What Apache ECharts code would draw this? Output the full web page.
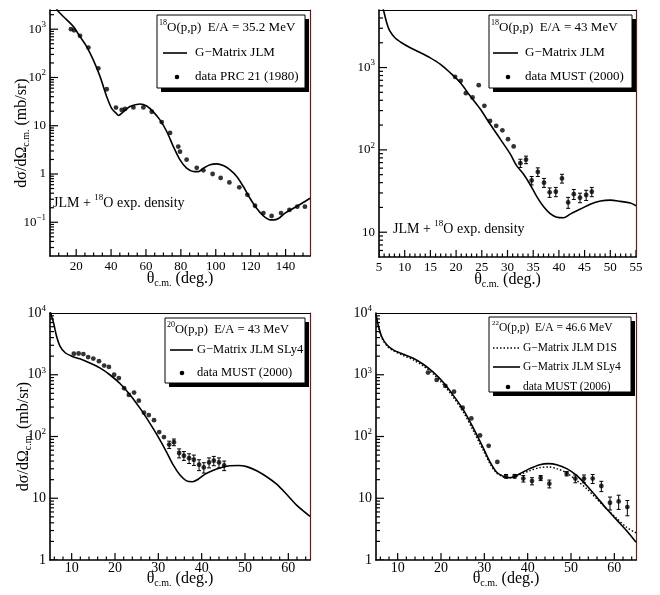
<!DOCTYPE html>
<html><head><meta charset="utf-8">
<script src="https://cdn.jsdelivr.net/npm/echarts@6.0.0/dist/echarts.min.js"></script>
<style>html,body{margin:0;padding:0;background:#fff}#c{width:660px;height:595px}</style>
</head><body><div id="c"></div>
<script>
// ===== Panel 1: 18O(p,p) E/A = 35.2 MeV =====
const p1DataAngle = [17.0, 18.8, 22.2, 27.0, 32.7, 37.5, 42.8, 46.1, 48.0, 52.8, 58.5, 63.3, 69.0, 73.8, 78.5, 79.5, 83.3, 89.1, 92.9, 98.2, 102.8, 107.8, 113.5, 118.1, 122.5, 127.3, 132.0, 137.4, 142.2, 146.7, 151.1];
const p1DataValue = [1000, 950, 728, 417, 155, 57, 23.8, 21.3, 22.3, 24, 24, 19.5, 11.9, 7.1, 3.7, 2.9, 1.98, 1.34, 1.19, 1.0, 0.83, 0.67, 0.53, 0.37, 0.22, 0.155, 0.135, 0.155, 0.18, 0.21, 0.21];
const p1CurveAngle = [6, 8, 9.8, 14.6, 18.4, 22.2, 26.0, 29.8, 33.7, 37.5, 40.3, 43.2, 44.2, 47.0, 50.8, 56.6, 60.4, 64.2, 68.0, 71.9, 75.7, 79.5, 83.3, 87.1, 90.0, 92.9, 96.7, 100.5, 104.3, 108.2, 112.0, 115.8, 119.6, 123.4, 127.3, 131.1, 133.0, 135.9, 139.7, 144.5, 149.2, 154.0];
const p1CurveValue = [3500, 2900, 2330, 1560, 1135, 700, 437, 231, 104, 40, 23, 17.6, 16.3, 19.4, 25, 28.3, 25.6, 19.4, 13.2, 7.6, 3.7, 1.96, 1.32, 1.13, 1.12, 1.32, 1.55, 1.62, 1.5, 1.22, 0.89, 0.55, 0.315, 0.195, 0.135, 0.112, 0.112, 0.12, 0.155, 0.195, 0.245, 0.315];
const p1XTicks = [20, 40, 60, 80, 100, 120, 140];
const p1YTicks = [0.1, 1, 10, 100, 1000];

// ===== Panel 2: 18O(p,p) E/A = 43 MeV =====
const p2DataAngle = [19.8, 20.9, 21.9, 23.2, 24.4, 25.5, 26.6, 27.8, 29.0, 30.1, 31.2, 32.5, 33.6, 34.7, 35.9, 37.1, 38.2, 39.4, 40.6, 41.8, 42.9, 44.1, 45.3, 46.4];
const p2DataValue = [771, 690, 488, 433, 611, 343, 225, 196, 173, 135, 110, 69, 76, 42.5, 54, 40, 30.5, 31, 45, 23, 29, 26.3, 28.3, 31];
const p2DataError = [0, 0, 0, 0, 0, 0, 0, 0, 0, 0, 0, 8, 8, 5, 6.5, 5, 4, 4, 5.5, 3.5, 4, 3.5, 4, 4];
const p2CurveAngle = [5.0, 5.84, 6.5, 7.1, 8.1, 9.4, 11.0, 13.0, 14.9, 16.9, 18.8, 20.8, 22.7, 24.7, 26.6, 28.6, 30.5, 31.8, 33.1, 34.4, 35.7, 37.0, 38.3, 39.6, 40.9, 42.2, 44.2, 46.1, 48.1, 50.0, 51.9, 53.9, 55.0];
const p2CurveValue = [8000, 5090, 3510, 2780, 2300, 2000, 1750, 1520, 1320, 1100, 870, 658, 454, 313, 206, 135, 90, 64, 51, 38, 27, 20.5, 16.8, 15.2, 15, 16.6, 19.1, 21.9, 23.9, 24.5, 23.7, 22.6, 21];
const p2XTicks = [5, 10, 15, 20, 25, 30, 35, 40, 45, 50, 55];
const p2YTicks = [10, 100, 1000];

// ===== Panel 3: 20O(p,p) E/A = 43 MeV =====
const p3DataAngle = [10.5, 11.6, 12.7, 13.8, 15.0, 16.3, 17.5, 18.6, 19.8, 20.9, 22.1, 23.2, 24.4, 25.5, 26.7, 27.8, 29.0, 30.2, 31.3, 32.5, 33.6, 34.8, 35.9, 37.1, 38.2, 39.4, 40.5, 41.7, 42.8, 44.0, 45.2];
const p3DataValue = [2190, 2210, 2160, 1930, 1830, 1660, 1410, 1340, 1000, 885, 605, 472, 515, 381, 243, 222, 184, 118, 98, 74, 81, 54, 49, 44.5, 42, 35, 31.6, 38, 40.6, 38, 34];
const p3DataError = [0, 0, 0, 0, 0, 0, 0, 0, 0, 0, 0, 0, 0, 0, 0, 0, 0, 0, 0, 10, 10, 9, 8, 8, 8, 7, 6, 7, 7, 7, 6];
const p3CurveAngle = [5.0, 5.15, 5.8, 6.5, 7.3, 8.5, 10.0, 11.9, 14.2, 16.5, 18.8, 21.2, 23.5, 25.8, 28.1, 30.0, 31.9, 33.5, 35.0, 36.5, 37.9, 39.2, 40.8, 42.7, 44.2, 46.5, 48.5, 50.4, 52.7, 55.0, 57.3, 59.6, 61.9, 65.0];
const p3CurveValue = [12000, 10000, 7050, 4250, 2920, 2270, 2000, 1810, 1550, 1290, 1000, 714, 472, 285, 162, 98, 56, 34, 23.7, 19.1, 18.5, 20.3, 24.6, 28.5, 31, 33.5, 34, 32.5, 27.9, 22.3, 16.9, 11.6, 7.76, 5.1];
const p3XTicks = [10, 20, 30, 40, 50, 60];
const p3YTicks = [1, 10, 100, 1000, 10000];

// ===== Panel 4: 22O(p,p) E/A = 46.6 MeV =====
const p4DataAngle = [17, 19, 21, 23, 25, 27, 29, 31, 33, 35, 37, 39, 41, 43, 45, 49, 51, 53, 55, 57, 59, 61, 63];
const p4DataValue = [1085, 825, 660, 532, 292, 196, 104, 70.5, 38.7, 22.7, 22.7, 20.8, 19, 21.3, 17.2, 25, 20.8, 20.8, 20.8, 15.8, 8.45, 8.9, 7.2];
const p4DataError = [0, 0, 0, 0, 0, 0, 0, 0, 0, 1.5, 1.5, 2.5, 2.5, 2, 2.5, 2, 3, 3, 3.5, 3, 2, 2.3, 2];
const p4CurveAngle = [5.0, 5.5, 6.3, 7.5, 9.0, 11.3, 13.6, 15.9, 18.2, 20.5, 22.8, 25.2, 27.5, 29.8, 31.3, 32.8, 34.4, 35.5, 36.7, 38.2, 40.5, 42.8, 44.8, 46.7, 49.0, 51.3, 53.6, 55.9, 58.2, 60.5, 62.8, 65.0];
const p4SLy4Value = [9400, 6460, 4170, 3050, 2530, 2150, 1850, 1480, 1100, 755, 468, 267, 135, 64, 38.7, 26.6, 22.6, 21.5, 22, 25, 30.2, 35, 36.4, 35, 30.2, 23.5, 16.1, 10.5, 6.76, 4.5, 3.0, 1.94];
const p4D1SValue = [9400, 6300, 4020, 2940, 2440, 2050, 1740, 1390, 1030, 701, 437, 246, 122, 58.5, 36.4, 25.7, 22.1, 21.3, 21.8, 24.1, 28, 31.3, 32.1, 30.2, 25.7, 19.5, 14.3, 9.8, 6.75, 4.76, 3.4, 2.75];
const p4XTicks = [10, 20, 30, 40, 50, 60];
const p4YTicks = [1, 10, 100, 1000, 10000];

// ===== helpers =====
const FONT = '"Liberation Serif","Times New Roman",serif';
const zip = (a, b) => a.map((v, i) => [v, b[i]]);
function steps(a, b, s) { const r = []; for (let v = a; v <= b + 1e-9; v += s) r.push(+v.toFixed(6)); return r; }
function logMinor(min, max) { const r = []; for (let e = -3; e <= 5; e++) for (let m = 2; m <= 9; m++) { const v = m * Math.pow(10, e); if (v > min && v < max) r.push(+v.toPrecision(6)); } return r; }
function powLabel(v) { const e = Math.round(Math.log10(v)); if (e === 0) return '1'; if (e === 1) return '10'; return '10{sup|' + (e < 0 ? '\u2212' + (-e) : e) + '}'; }

const grids = [], xAxes = [], yAxes = [], series = [], graphics = [];

function addPanel(c) {
  const gi = grids.length, xi = xAxes.length, yi = yAxes.length;
  grids.push({ left: c.left, top: c.top, width: c.width, height: c.height, show: false, containLabel: false, outerBoundsMode: 'none' });
  xAxes.push({
    type: 'value', gridIndex: gi, min: c.xMin, max: c.xMax, position: 'bottom',
    axisLine: { show: true, onZero: false, lineStyle: { color: '#000', width: 1.6 } },
    axisTick: { show: false },
    axisLabel: { show: true, customValues: c.xTicks, margin: c.xLabelMargin, fontFamily: FONT, fontSize: c.tickFont, color: '#000', hideOverlap: false },
    splitLine: { show: false },
    name: 'θ{sub|c.m.} (deg.)', nameLocation: 'middle', nameGap: c.xNameGap, nameMoveOverlap: false,
    nameTextStyle: { fontFamily: FONT, fontSize: 16, color: '#000', lineHeight: 18, verticalAlign: 'top',
      rich: { sub: { fontFamily: FONT, fontSize: 10, lineHeight: 10, verticalAlign: 'bottom', color: '#000' } } }
  });
  xAxes.push({
    type: 'value', gridIndex: gi, min: c.xMin, max: c.xMax, position: 'top',
    axisLine: { show: true, onZero: false, lineStyle: { color: '#000', width: 1 } },
    axisTick: { show: false }, axisLabel: { show: false }, splitLine: { show: false }
  });
  const yMain = {
    type: 'log', logBase: 10, gridIndex: gi, min: c.yMin, max: c.yMax, position: 'left',
    axisLine: { show: true, onZero: false, lineStyle: { color: '#000', width: 1.6 } },
    axisTick: { show: false },
    axisLabel: { show: true, customValues: c.yTicks, formatter: powLabel, margin: 4, fontFamily: FONT, fontSize: c.tickFont, color: '#000', lineHeight: 18, hideOverlap: false,
      rich: { sup: { fontFamily: FONT, fontSize: 9, lineHeight: 9, verticalAlign: 'top', color: '#000' } } },
    splitLine: { show: false }
  };
  if (c.yTitle) {
    Object.assign(yMain, {
      name: 'dσ/dΩ{sub|c.m.} (mb/sr)', nameLocation: 'middle', nameRotate: 90, nameGap: c.yNameGap, nameMoveOverlap: false,
      nameTextStyle: { fontFamily: FONT, fontSize: 16, color: '#000', lineHeight: 18,
        rich: { sub: { fontFamily: FONT, fontSize: 10, lineHeight: 10, verticalAlign: 'bottom', color: '#000' } } }
    });
  }
  yAxes.push(yMain);
  yAxes.push({
    type: 'log', logBase: 10, gridIndex: gi, min: c.yMin, max: c.yMax, position: 'right',
    axisLine: { show: true, onZero: false, lineStyle: { color: '#6e1a1a', width: 1.2 } },
    axisTick: { show: false }, axisLabel: { show: false }, splitLine: { show: false }
  });
  const ax = { xi, yi };
  // axis ticks inside the frame: one short segment per tick value, placed through the axes' own scales
  const xt = c.xTicks.map(v => [v, c.yMin, 7]).concat(c.xMinor.filter(v => c.xTicks.indexOf(v) < 0).map(v => [v, c.yMin, 3.5]));
  series.push({ type: 'custom', xAxisIndex: xi, yAxisIndex: yi, data: xt, encode: { x: 0, y: 1 }, silent: true, animation: false, clip: true, z: 10,
    renderItem: (params, api) => {
      const x = api.value(0), y = api.value(1), L = api.value(2);
      const p = api.coord([x, y]);
      return { type: 'group', children: [
        { type: 'line', shape: { x1: p[0], y1: p[1], x2: p[0], y2: p[1] - L }, style: { stroke: '#000', lineWidth: 1.2 } }
      ] };
    } });
  const yt = c.yTicks.map(v => [c.xMin, v, 8]).concat(logMinor(c.yMin, c.yMax).map(v => [c.xMin, v, 4]));
  series.push({ type: 'custom', xAxisIndex: xi, yAxisIndex: yi, data: yt, encode: { x: 0, y: 1 }, silent: true, animation: false, clip: true, z: 10,
    renderItem: (params, api) => {
      const x = api.value(0), y = api.value(1), L = api.value(2);
      const p = api.coord([x, y]);
      return { type: 'group', children: [
        { type: 'line', shape: { x1: p[0], y1: p[1], x2: p[0] + L, y2: p[1] }, style: { stroke: '#000', lineWidth: 1.2 } }
      ] };
    } });
  return ax;
}

function addLine(ax, data, dashed) {
  series.push({ type: 'line', xAxisIndex: ax.xi, yAxisIndex: ax.yi, data, showSymbol: false, symbol: 'none', smooth: 0.3,
    clip: true, silent: true, animation: false,
    lineStyle: { color: '#000', width: dashed ? 1.4 : 1.6, type: dashed ? [1.5, 2] : 'solid' } });
}
function addPoints(ax, angles, values, errors) {
  series.push({ type: 'scatter', xAxisIndex: ax.xi, yAxisIndex: ax.yi, data: zip(angles, values), symbol: 'circle', symbolSize: 4.8,
    itemStyle: { color: '#000' }, silent: true, animation: false, clip: true, z: 3 });
  if (errors) {
    const d = angles.map((a, i) => [a, values[i], errors[i]]).filter(r => r[2] > 0);
    series.push({ type: 'custom', xAxisIndex: ax.xi, yAxisIndex: ax.yi, data: d, encode: { x: 0, y: 1 }, silent: true, animation: false, clip: true,
      renderItem: (params, api) => {
        const x = api.value(0), y = api.value(1), e = api.value(2);
        const lo = api.coord([x, y - e]), hi = api.coord([x, y + e]);
        const w = 2, st = { stroke: '#000', lineWidth: 1 };
        return { type: 'group', children: [
          { type: 'line', shape: { x1: lo[0], y1: lo[1], x2: hi[0], y2: hi[1] }, style: st },
          { type: 'line', shape: { x1: lo[0] - w, y1: lo[1], x2: lo[0] + w, y2: lo[1] }, style: st },
          { type: 'line', shape: { x1: hi[0] - w, y1: hi[1], x2: hi[0] + w, y2: hi[1] }, style: st }
        ] };
      } });
  }
}

function txt(x, y, text, size) {
  graphics.push({ type: 'text', x, y, z: 101, style: { text, fontFamily: FONT, fontSize: size, lineHeight: size + 5, fill: '#000', align: 'left', verticalAlign: 'middle',
    rich: { sup: { fontFamily: FONT, fontSize: Math.round(size * 0.62), lineHeight: Math.round(size * 0.62), verticalAlign: 'top', fill: '#000' } } } });
}
function box(x, y, w, h) {
  graphics.push({ type: 'rect', z: 100, shape: { x: x + 4, y: y + 4, width: w, height: h }, style: { fill: '#000' } });
  graphics.push({ type: 'rect', z: 100, shape: { x, y, width: w, height: h }, style: { fill: '#fff', stroke: '#000', lineWidth: 1 } });
}
function sampleLine(x1, x2, y, dashed) {
  graphics.push({ type: 'line', z: 101, shape: { x1, y1: y, x2, y2: y }, style: { stroke: '#000', lineWidth: dashed ? 1.4 : 1.6, lineDash: dashed ? [1.5, 2] : null } });
}
function sampleDot(cx, cy) { graphics.push({ type: 'circle', z: 101, shape: { cx, cy, r: 2.3 }, style: { fill: '#000' } }); }

// ===== Panel 1 =====
const a1 = addPanel({ left: 50, top: 10, width: 260, height: 246, xMin: 5, xMax: 154, yMin: 0.02, yMax: 2500,
  xTicks: p1XTicks, xMinor: steps(10, 150, 5), yTicks: p1YTicks, tickFont: 13, xLabelMargin: 4, xNameGap: 14, yTitle: true, yNameGap: 19 });
addLine(a1, zip(p1CurveAngle, p1CurveValue));
addPoints(a1, p1DataAngle, p1DataValue, null);
box(157, 15, 148, 73);
txt(159, 28, '{sup|18}O(p,p)  E/A = 35.2 MeV', 13);
sampleLine(163, 187, 53); txt(195, 53, 'G\u2212Matrix JLM', 13);
sampleDot(177, 77); txt(195, 77, 'data PRC 21 (1980)', 13);
txt(53, 203, 'JLM + {sup|18}O exp. density', 14);

// ===== Panel 2 =====
const a2 = addPanel({ left: 379, top: 10, width: 257, height: 247, xMin: 5, xMax: 55, yMin: 5, yMax: 5000,
  xTicks: p2XTicks, xMinor: steps(6, 54, 1), yTicks: p2YTicks, tickFont: 13, xLabelMargin: 4, xNameGap: 14, yTitle: false });
addLine(a2, zip(p2CurveAngle, p2CurveValue));
addPoints(a2, p2DataAngle, p2DataValue, p2DataError);
box(489, 15, 143, 73);
txt(491, 28, '{sup|18}O(p,p)  E/A = 43 MeV', 13);
sampleLine(493, 518, 53); txt(525, 53, 'G\u2212Matrix JLM', 13);
sampleDot(508, 77); txt(525, 77, 'data MUST (2000)', 13);
txt(393, 229, 'JLM + {sup|18}O exp. density', 14);

// ===== Panel 3 =====
const a3 = addPanel({ left: 50, top: 313, width: 260, height: 247, xMin: 5, xMax: 65, yMin: 1, yMax: 10000,
  xTicks: p3XTicks, xMinor: steps(6, 64, 2), yTicks: p3YTicks, tickFont: 14, xLabelMargin: 1, xNameGap: 10, yTitle: true, yNameGap: 17 });
addLine(a3, zip(p3CurveAngle, p3CurveValue));
addPoints(a3, p3DataAngle, p3DataValue, p3DataError);
box(165, 318, 140, 65);
txt(167, 330, '{sup|20}O(p,p)  E/A = 43 MeV', 12.5);
sampleLine(170, 193, 350); txt(197, 350, 'G\u2212Matrix JLM SLy4', 12.5);
sampleDot(182, 373); txt(197, 373, 'data MUST (2000)', 12.5);

// ===== Panel 4 =====
const a4 = addPanel({ left: 376, top: 313, width: 260, height: 247, xMin: 5, xMax: 65, yMin: 1, yMax: 10000,
  xTicks: p4XTicks, xMinor: steps(6, 64, 2), yTicks: p4YTicks, tickFont: 14, xLabelMargin: 1, xNameGap: 10, yTitle: false });
addLine(a4, zip(p4CurveAngle, p4D1SValue), true);
addLine(a4, zip(p4CurveAngle, p4SLy4Value));
addPoints(a4, p4DataAngle, p4DataValue, p4DataError);
box(489, 317, 142, 75);
txt(492, 328, '{sup|22}O(p,p)  E/A = 46.6 MeV', 11.5);
sampleLine(493, 520, 348, true); txt(523, 348, 'G\u2212Matrix JLM D1S', 11.5);
sampleLine(493, 520, 367); txt(523, 367, 'G\u2212Matrix JLM SLy4', 11.5);
sampleDot(508, 387); txt(523, 387, 'data MUST (2006)', 11.5);

const chart = echarts.init(document.getElementById('c'), null, { renderer: 'canvas' });
chart.setOption({
  animation: false, backgroundColor: '#fff',
  grid: grids, xAxis: xAxes, yAxis: yAxes, series, graphic: graphics
});
</script></body></html>
